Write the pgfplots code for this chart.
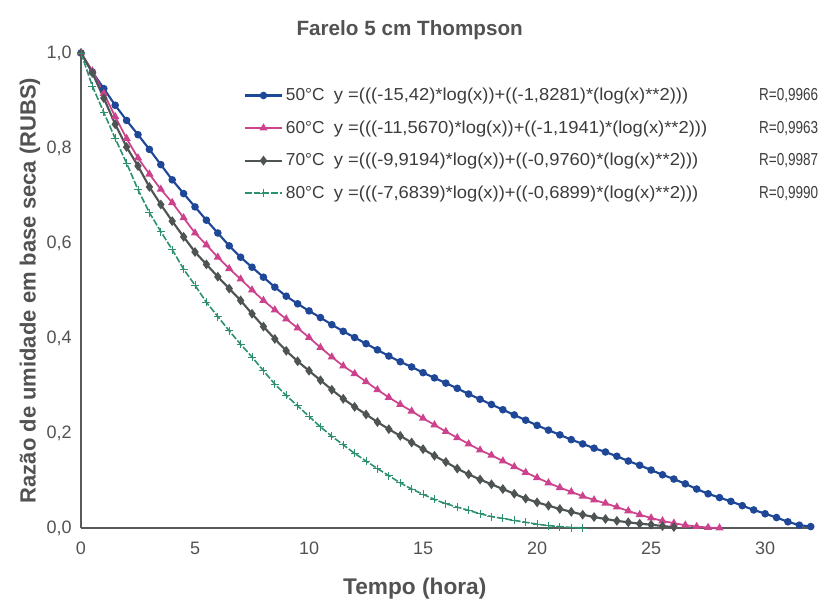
\documentclass[border=0pt]{standalone}
\usepackage{fontspec}
\setmainfont{Liberation Sans}
\usepackage{graphicx}
\usepackage{pgfplots}
\pgfplotsset{compat=1.18}
\definecolor{cblue}{RGB}{31,71,151}
\definecolor{cpink}{RGB}{204,66,140}
\definecolor{cgray}{RGB}{78,84,84}
\definecolor{cgreen}{RGB}{45,145,112}
\definecolor{axgray}{RGB}{88,90,90}
\definecolor{txtgray}{RGB}{82,82,82}
\definecolor{legtxt}{RGB}{60,60,60}
\begin{document}
\begin{tikzpicture}
\useasboundingbox (-60.75pt,-53.25pt) rectangle (553.5pt,396pt);
\begin{axis}[
  scale only axis, width=549pt, height=356.25pt,
  xmin=0, xmax=32.1, ymin=0, ymax=1,
  axis x line=bottom, axis y line=left,
  axis line style={-, draw=axgray, line width=1.8pt},
  xtick={0,5,10,15,20,25,30},
  xticklabels={0,5,10,15,20,25,30},
  ytick={0,0.2,0.4,0.6,0.8,1},
  yticklabels={{0,0},{0,2},{0,4},{0,6},{0,8},{1,0}},
  major tick length=0pt,
  tick label style={font=\fontsize{13.5}{16}\selectfont, text=txtgray},
  xticklabel style={yshift=-7pt},
  yticklabel style={xshift=-3.5pt},
  title={Farelo 5 cm Thompson},
  title style={at={(axis description cs:0.449,1.0315)}, anchor=center, font=\fontsize{15.5}{18}\selectfont\bfseries, text=txtgray},
  xlabel={Tempo (hora)},
  xlabel style={at={(axis description cs:0.456,-0.1284)}, anchor=center, font=\fontsize{17}{20}\selectfont\bfseries, text=txtgray},
  ylabel={Razão de umidade em base seca (RUBS)},
  ylabel style={at={(axis description cs:-0.0697,0.5)}, anchor=center, font=\fontsize{16.5}{19}\selectfont\bfseries, text=txtgray},
  clip=false,
  legend style={at={(axis description cs:0.222,0.932)}, anchor=north west, draw=none, fill=none, inner sep=0pt, row sep=9.5pt, font=\fontsize{13}{15}\selectfont, text=legtxt},
  legend cell align=left,
  legend image code/.code={\draw[mark repeat=2,mark phase=2] plot coordinates {(0pt,0pt)(14pt,0pt)(28pt,0pt)};},
]
\addplot[cblue, line width=1.6pt, mark=*, mark size=2pt, mark options={solid}] coordinates {
(0,1.000)(0.5,0.960)(1,0.925)(1.5,0.890)(2,0.858)(2.5,0.828)(3,0.797)(3.5,0.765)(4,0.733)(4.5,0.704)
(5,0.676)(5.5,0.648)(6,0.621)(6.5,0.594)(7,0.570)(7.5,0.549)(8,0.528)(8.5,0.507)(9,0.488)(9.5,0.472)
(10,0.457)(10.5,0.443)(11,0.428)(11.5,0.414)(12,0.401)(12.5,0.388)(13,0.375)(13.5,0.362)(14,0.350)(14.5,0.339)
(15,0.327)(15.5,0.316)(16,0.305)(16.5,0.294)(17,0.282)(17.5,0.271)(18,0.260)(18.5,0.249)(19,0.238)(19.5,0.227)
(20,0.216)(20.5,0.206)(21,0.196)(21.5,0.186)(22,0.177)(22.5,0.168)(23,0.160)(23.5,0.151)(24,0.141)(24.5,0.132)
(25,0.122)(25.5,0.112)(26,0.103)(26.5,0.093)(27,0.082)(27.5,0.072)(28,0.064)(28.5,0.056)(29,0.047)(29.5,0.038)
(30,0.030)(30.5,0.022)(31,0.013)(31.5,0.006)(32,0.003)};
\addlegendentry{\makebox[36pt][l]{50°C}\makebox[319pt][l]{\scalebox{1.06}[1]{y =(((-15,42)*log(x))+((-1,8281)*(log(x)**2)))}}\scalebox{0.78}[1]{R=0,9966}}
\addplot[cpink, line width=1.3pt, mark=triangle*, mark size=2.3pt, mark options={solid}] coordinates {
(0,1.000)(0.5,0.962)(1,0.915)(1.5,0.866)(2,0.820)(2.5,0.779)(3,0.745)(3.5,0.713)(4,0.685)(4.5,0.653)
(5,0.621)(5.5,0.596)(6,0.570)(6.5,0.546)(7,0.524)(7.5,0.501)(8,0.479)(8.5,0.459)(9,0.440)(9.5,0.421)
(10,0.401)(10.5,0.380)(11,0.360)(11.5,0.341)(12,0.325)(12.5,0.308)(13,0.291)(13.5,0.275)(14,0.260)(14.5,0.246)
(15,0.231)(15.5,0.217)(16,0.203)(16.5,0.190)(17,0.177)(17.5,0.164)(18,0.153)(18.5,0.141)(19,0.129)(19.5,0.117)
(20,0.106)(20.5,0.095)(21,0.085)(21.5,0.076)(22,0.067)(22.5,0.059)(23,0.052)(23.5,0.044)(24,0.036)(24.5,0.028)
(25,0.021)(25.5,0.015)(26,0.010)(26.5,0.006)(27,0.003)(27.5,0.001)(28,0.000)};
\addlegendentry{\makebox[36pt][l]{60°C}\makebox[319pt][l]{\scalebox{1.06}[1]{y =(((-11,5670)*log(x))+((-1,1941)*(log(x)**2)))}}\scalebox{0.78}[1]{R=0,9963}}
\addplot[cgray, line width=1.6pt, mark=diamond*, mark size=2.4pt, mark options={solid}] coordinates {
(0,1.000)(0.5,0.958)(1,0.905)(1.5,0.850)(2,0.802)(2.5,0.762)(3,0.718)(3.5,0.681)(4,0.646)(4.5,0.613)
(5,0.581)(5.5,0.555)(6,0.529)(6.5,0.504)(7,0.479)(7.5,0.451)(8,0.424)(8.5,0.398)(9,0.373)(9.5,0.351)
(10,0.331)(10.5,0.311)(11,0.291)(11.5,0.272)(12,0.255)(12.5,0.239)(13,0.223)(13.5,0.208)(14,0.194)(14.5,0.180)
(15,0.166)(15.5,0.152)(16,0.139)(16.5,0.125)(17,0.113)(17.5,0.102)(18,0.092)(18.5,0.082)(19,0.072)(19.5,0.062)
(20,0.054)(20.5,0.047)(21,0.040)(21.5,0.034)(22,0.028)(22.5,0.023)(23,0.019)(23.5,0.015)(24,0.012)(24.5,0.009)
(25,0.007)(25.5,0.004)(26,0.002)};
\addlegendentry{\makebox[36pt][l]{70°C}\makebox[319pt][l]{\scalebox{1.06}[1]{y =(((-9,9194)*log(x))+((-0,9760)*(log(x)**2)))}}\scalebox{0.78}[1]{R=0,9987}}
\addplot[cgreen, line width=1.2pt, dash pattern=on 5pt off 1.5pt, mark=+, mark size=3pt, mark options={solid, line width=0.7pt}] coordinates {
(0,1.000)(0.5,0.930)(1,0.875)(1.5,0.820)(2,0.768)(2.5,0.712)(3,0.664)(3.5,0.624)(4,0.586)(4.5,0.545)
(5,0.511)(5.5,0.475)(6,0.445)(6.5,0.415)(7,0.387)(7.5,0.360)(8,0.331)(8.5,0.303)(9,0.279)(9.5,0.257)
(10,0.235)(10.5,0.213)(11,0.193)(11.5,0.175)(12,0.157)(12.5,0.141)(13,0.125)(13.5,0.110)(14,0.095)(14.5,0.082)
(15,0.071)(15.5,0.060)(16,0.051)(16.5,0.044)(17,0.037)(17.5,0.030)(18,0.024)(18.5,0.020)(19,0.016)(19.5,0.012)
(20,0.008)(20.5,0.005)(21,0.003)(21.5,0.001)(22,0.000)};
\addlegendentry{\makebox[36pt][l]{80°C}\makebox[319pt][l]{\scalebox{1.06}[1]{y =(((-7,6839)*log(x))+((-0,6899)*(log(x)**2)))}}\scalebox{0.78}[1]{R=0,9990}}
\end{axis}
\end{tikzpicture}
\end{document}
